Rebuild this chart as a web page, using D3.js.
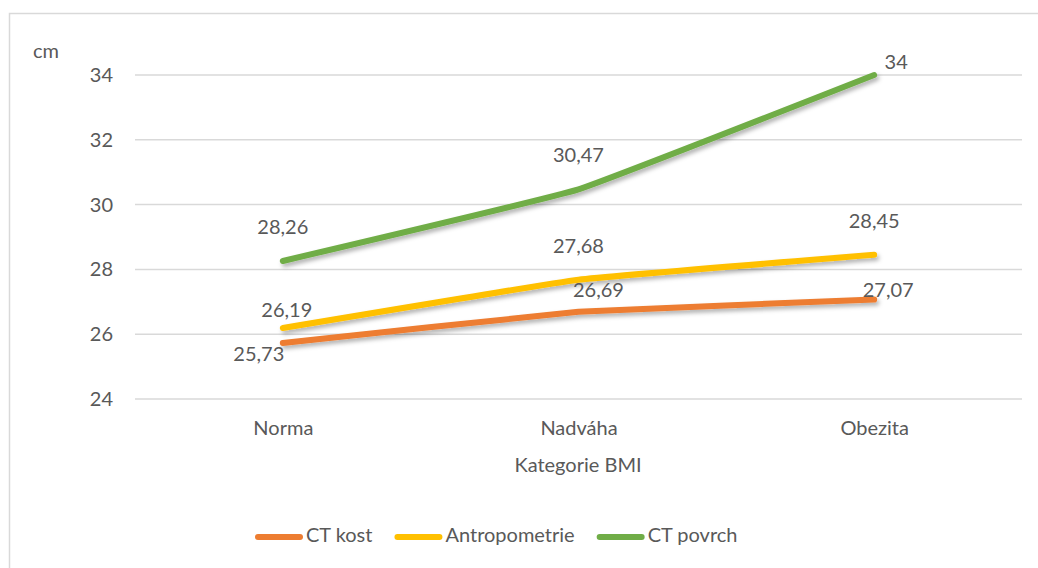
<!DOCTYPE html>
<html>
<head>
<meta charset="utf-8">
<script src="https://cdn.jsdelivr.net/npm/d3@7"></script>
<style>
  body { margin: 0; background: #fff; }
  text { font-family: Lato, "Open Sans", sans-serif; fill: #595959; }
</style>
</head>
<body>
<div class="canva"></div>
<script>
// data
var categories = ["Norma", "Nadváha", "Obezita"];
var ctKost = [25.73, 26.69, 27.07];
var antropometrie = [26.19, 27.68, 28.45];
var ctPovrch = [28.26, 30.47, 34];
var seriesNames = ["CT kost", "Antropometrie", "CT povrch"];
var yTicks = [24, 26, 28, 30, 32, 34];

var colors = ["#ED7D31", "#FFC000", "#70AD47"];
var allSeries = [ctKost, antropometrie, ctPovrch];

// label offsets (dx, dy) per series / point, like excel placed them
var labelOffsets = [
    [[-24, 13], [20, -20], [14, -8]],
    [[4, -16], [0, -32], [0, -32]],
    [[0, -32], [0, -32], [22, -11]]
];

const W = 1038, H = 568;
const svg = d3.select(".canva").append("svg")
    .attr("width", W)
    .attr("height", H);

var defs = svg.append("defs");
defs.append("filter")
    .attr("id", "shadow")
    .attr("x", "-10%").attr("y", "-50%")
    .attr("width", "120%").attr("height", "200%")
    .append("feDropShadow")
    .attr("dx", 2).attr("dy", 3)
    .attr("stdDeviation", 2)
    .attr("flood-color", "#000")
    .attr("flood-opacity", 0.3);

// outer border
svg.append("rect")
    .attr("x", 9.5).attr("y", 13.5)
    .attr("width", 1040).attr("height", 570)
    .attr("fill", "#fff")
    .attr("stroke", "#D9D9D9")
    .attr("stroke-width", 1.5);

var x = d3.scalePoint()
    .domain(categories)
    .range([135, 1022])
    .padding(0.5);

var y = d3.scaleLinear()
    .domain([24, 34])
    .range([399, 75]);

// gridlines
svg.append("g")
    .selectAll("line")
    .data(yTicks)
    .enter()
    .append("line")
    .attr("x1", 135).attr("x2", 1022)
    .attr("y1", d => y(d)).attr("y2", d => y(d))
    .attr("stroke", "#D9D9D9")
    .attr("stroke-width", 1.5);

// y axis labels
var yAxis = d3.axisLeft(y)
    .tickValues(yTicks)
    .tickSize(0)
    .tickPadding(22);
var gy = svg.append("g")
    .attr("transform", "translate(135,0)")
    .call(yAxis);
gy.select(".domain").remove();
gy.selectAll("text")
    .style("font-size", "20px")
    .attr("fill", "#595959");

// x axis labels
var xAxis = d3.axisBottom(x).tickSize(0).tickPadding(22);
var gx = svg.append("g")
    .attr("transform", "translate(0,399)")
    .call(xAxis);
gx.select(".domain").remove();
gx.selectAll("text")
    .style("font-size", "20px")
    .attr("fill", "#595959");

// axis titles
svg.append("text")
    .attr("x", 33).attr("y", 53)
    .attr("dominant-baseline", "middle")
    .style("font-size", "20px")
    .text("cm");

svg.append("text")
    .attr("x", 578).attr("y", 467)
    .attr("text-anchor", "middle")
    .attr("dominant-baseline", "middle")
    .style("font-size", "20px")
    .text("Kategorie BMI");

// lines (excel smoothing is gentle)
var valueLine = d3.line()
    .x((d, i) => x(categories[i]))
    .y(d => y(d))
    .curve(d3.curveCardinal.tension(0.75));

svg.append("g")
    .selectAll("path")
    .data(allSeries)
    .enter()
    .append("path")
    .attr("d", valueLine)
    .attr("fill", "none")
    .attr("stroke", (d, i) => colors[i])
    .attr("stroke-width", 6)
    .attr("stroke-linecap", "round")
    .attr("stroke-linejoin", "round")
    .attr("filter", "url(#shadow)");

// data labels
var fmt = d => String(d).replace(".", ",");
allSeries.forEach(function(s, si) {
    svg.append("g")
        .selectAll("text")
        .data(s)
        .enter()
        .append("text")
        .attr("x", (d, i) => x(categories[i]) + labelOffsets[si][i][0])
        .attr("y", (d, i) => y(d) + labelOffsets[si][i][1])
        .attr("text-anchor", "middle")
        .attr("dominant-baseline", "middle")
        .style("font-size", "20px")
        .attr("fill", "#404040")
        .text(fmt);
});

// legend
var legend = svg.append("g");
var lx = 255;
seriesNames.forEach(function(name, i) {
    legend.append("line")
        .attr("x1", lx + 3).attr("x2", lx + 45)
        .attr("y1", 537).attr("y2", 537)
        .attr("stroke", colors[i])
        .attr("stroke-width", 6)
        .attr("stroke-linecap", "round");
    var t = legend.append("text")
        .attr("x", lx + 51).attr("y", 537)
        .attr("dominant-baseline", "middle")
        .style("font-size", "20px")
        .text(name);
    lx = lx + 51 + t.node().getComputedTextLength() + 22;
});
</script>
</body>
</html>
